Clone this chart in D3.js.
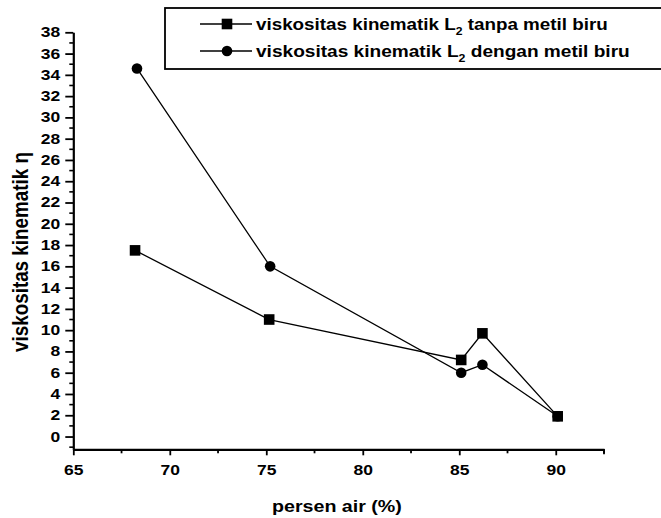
<!DOCTYPE html>
<html><head><meta charset="utf-8">
<script src="https://cdn.jsdelivr.net/npm/d3@7"></script>
<style>body{margin:0;background:#fff}svg{display:block}</style>
</head><body>
<script>
const xTicks = [65, 70, 75, 80, 85, 90];
const yTicks = [0,2,4,6,8,10,12,14,16,18,20,22,24,26,28,30,32,34,36,38];
const persenAir = [68.2, 75.15, 85.1, 86.2, 90.1];
const tanpaMetilBiru = [17.5, 11.0, 7.2, 9.7, 1.9];
const persenAir2 = [68.3, 75.2, 85.1, 86.2, 90.1];
const denganMetilBiru = [34.6, 16.0, 6.0, 6.75, 1.9];
const seriesNames = ["viskositas kinematik L", "viskositas kinematik L"];
const seriesSuffix = [" tanpa metil biru", " dengan metil biru"];

const W = 661, H = 518;
const svg = d3.select("body").append("svg").attr("width", W).attr("height", H);
const x = d3.scaleLinear().domain([65, 92.5]).range([73.3, 604]);
const y = d3.scaleLinear().domain([-1.2, 38]).range([449.3, 32.3]);
const font = "Liberation Sans, Arial, sans-serif";
const stretch = 1.25;

function fitWidth(sel, target) {
  return target / sel.node().getComputedTextLength();
}

// axes
const xAxis = d3.axisBottom(x).tickValues(xTicks).tickSize(6).tickSizeOuter(0).tickFormat(d3.format("d"));
const gx = svg.append("g").attr("transform", `translate(0,${y(-1.2)})`).call(xAxis);
const xMinor = d3.range(67.5, 93, 5);
gx.selectAll(".minor").data(xMinor).enter().append("line")
  .attr("x1", d => x(d)).attr("x2", d => x(d)).attr("y1", 0).attr("y2", 4)
  .attr("stroke", "#000").attr("stroke-width", 1.8);
gx.append("line").attr("x1", x(92.5)).attr("x2", x(92.5)).attr("y1", 0).attr("y2", 5).attr("stroke","#000").attr("stroke-width",1.8);

const yAxis = d3.axisLeft(y).tickValues(yTicks).tickSize(8).tickSizeOuter(0).tickFormat(d3.format("d"));
const gy = svg.append("g").attr("transform", `translate(${x(65)},0)`).call(yAxis);
const yMinor = d3.range(-1, 38, 2);
gy.selectAll(".minor").data(yMinor).enter().append("line")
  .attr("x1", 0).attr("x2", -4).attr("y1", d => y(d)).attr("y2", d => y(d))
  .attr("stroke", "#000").attr("stroke-width", 1.6);

[gx, gy].forEach(g => {
  g.select(".domain").attr("stroke", "#000").attr("stroke-width", 2.2);
  g.selectAll(".tick line").attr("stroke", "#000").attr("stroke-width", 1.8);
  g.selectAll(".tick text").attr("fill", "#000").attr("font-family", font)
    .attr("font-size", 14).attr("font-weight", "bold");
});
gy.selectAll(".tick text").attr("x", 0).attr("transform", `translate(-13,0) scale(${stretch},1)`);
gx.selectAll(".tick text").attr("y", 0).attr("dy", 0)
  .attr("transform", `translate(0,26) scale(${stretch},1)`);

// lines
const line = d3.line().x(d => x(d[0])).y(d => y(d[1]));
const s1 = persenAir.map((v, i) => [v, tanpaMetilBiru[i]]);
const s2 = persenAir2.map((v, i) => [v, denganMetilBiru[i]]);
[s1, s2].forEach(s => svg.append("path").datum(s).attr("d", line)
  .attr("fill", "none").attr("stroke", "#000").attr("stroke-width", 1.3));

svg.selectAll(".c").data(s2).enter().append("circle")
  .attr("cx", d => x(d[0])).attr("cy", d => y(d[1])).attr("r", 5.3).attr("fill", "#000");
svg.selectAll(".s").data(s1).enter().append("rect")
  .attr("x", d => x(d[0]) - 5.3).attr("y", d => y(d[1]) - 5.3)
  .attr("width", 10.6).attr("height", 10.6).attr("fill", "#000");

// axis titles
const xt = svg.append("g");
const xtt = xt.append("text").attr("x", 0).attr("y", 0)
  .attr("font-family", font).attr("font-size", 17).attr("font-weight", "bold")
  .attr("fill", "#000").text("persen air (%)");
xt.attr("transform", `translate(272,512) scale(${fitWidth(xtt, 130)},1)`);

const yt = svg.append("g");
const ytt = yt.append("text").attr("x", 0).attr("y", 0)
  .attr("font-family", font).attr("font-size", 17).attr("font-weight", "bold")
  .attr("fill", "#000").text("viskositas kinematik η");
yt.attr("transform", `translate(28,352) rotate(-90) scale(${fitWidth(ytt, 200)},${stretch})`);

// legend
const lg = svg.append("g");
lg.append("rect").attr("x", 165).attr("y", 8).attr("width", 520).attr("height", 61)
  .attr("fill", "#fff").attr("stroke", "#000").attr("stroke-width", 1.8);
const rows = [24, 51];
const rowEnds = [608, 630];
rows.forEach((ry, i) => {
  lg.append("line").attr("x1", 200).attr("x2", 252).attr("y1", ry).attr("y2", ry)
    .attr("stroke", "#000").attr("stroke-width", 1.3);
  if (i === 0) lg.append("rect").attr("x", 221.7).attr("y", ry - 5.3).attr("width", 10.6).attr("height", 10.6).attr("fill", "#000");
  else lg.append("circle").attr("cx", 227).attr("cy", ry).attr("r", 5.3).attr("fill", "#000");
  const g = lg.append("g");
  const t = g.append("text").attr("x", 0).attr("y", 0)
    .attr("font-family", font).attr("font-size", 17).attr("font-weight", "bold").attr("fill", "#000");
  t.append("tspan").text(seriesNames[i]);
  t.append("tspan").attr("font-size", 11).attr("dy", 5).text("2");
  t.append("tspan").attr("dy", -5).text(seriesSuffix[i]);
  g.attr("transform", `translate(256,${ry + 6}) scale(${fitWidth(t, rowEnds[i] - 256)},1)`);
});
</script>
</body></html>
